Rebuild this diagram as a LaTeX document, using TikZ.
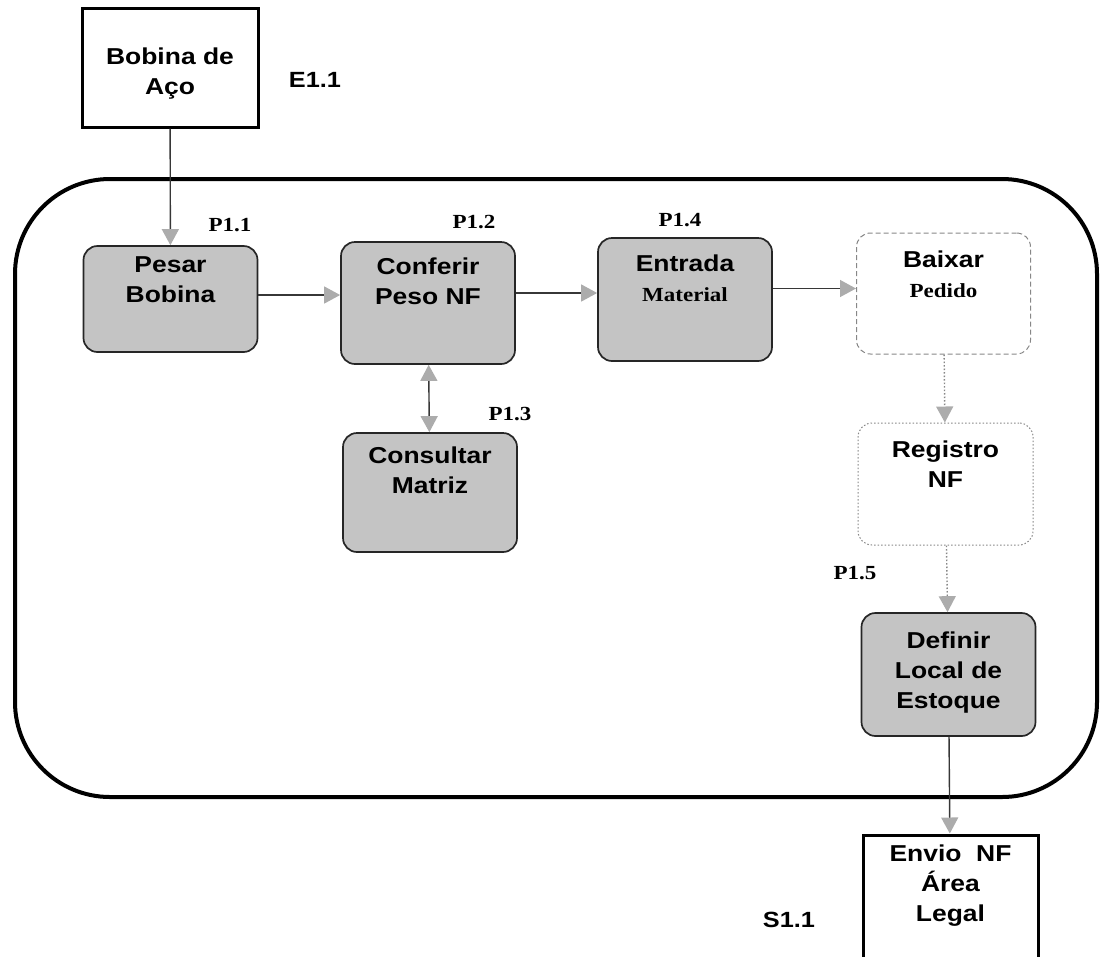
\documentclass[tikz,border=0pt]{standalone}
\usepackage{fontspec}
\setmainfont{Liberation Sans}[FakeStretch=1.15]
\newfontfamily\timesfont{Liberation Serif}[FakeStretch=1.15]
\usetikzlibrary{arrows.meta}
\definecolor{boxgray}{RGB}{196,196,196}
\definecolor{tipgray}{RGB}{172,172,172}
\definecolor{linegray}{RGB}{55,55,55}
\definecolor{dashgray}{RGB}{135,135,135}
\tikzset{procbox/.style={draw=black!85,line width=1.7pt,fill=boxgray,rounded corners=14pt,inner xsep=10pt,inner ysep=0pt,minimum width=174pt,font=\bfseries\fontsize{23}{30}\selectfont}}
\tikzset{dashbox/.style={procbox,draw=dashgray,fill=none,line width=1pt,dash pattern=on 5pt off 3pt}}
\tikzset{dotbox/.style={procbox,draw=dashgray,fill=none,line width=1pt,dash pattern=on 1.5pt off 2pt}}
\tikzset{iobox/.style={procbox,draw=black,fill=white,line width=3pt,rounded corners=0pt}}
\tikzset{plabel/.style={font=\timesfont\bfseries\fontsize{20}{24}\selectfont}}
\tikzset{elabel/.style={font=\bfseries\fontsize{22}{26}\selectfont}}
\tikzset{flow/.style={draw=linegray,line width=1.4pt,-{Triangle[length=16pt,width=17pt,color=tipgray]}}}
\tikzset{dotflow/.style={flow,draw=dashgray,dash pattern=on 1.5pt off 2pt}}
\newcommand{\boxlines}[3]{\parbox[c][#1][t]{154pt}{\centering\vspace*{#2}#3}}
\newcommand{\subline}[1]{{\timesfont\fontsize{20}{24}\selectfont #1}}

\begin{document}
\begin{tikzpicture}[x=1pt,y=-1pt]
\useasboundingbox (0,0) rectangle (1105,956);
% frame of the receiving process
\draw[line width=4pt,rounded corners=95pt] (15,179) rectangle (1097,797);

\node[iobox,minimum width=176pt] (bobina) at (170,67.5) {\boxlines{119pt}{40pt}{Bobina de\\Aço}};
\node[elabel] (e11) at (315,80) {E1.1};

\node[procbox] (pesar) at (170.5,299) {\boxlines{106pt}{11pt}{Pesar\\Bobina}};
\node[procbox,minimum width=170pt] (conferir) at (428,303) {\boxlines{122pt}{16pt}{Conferir\\Peso NF}};
\node[procbox,minimum width=171pt] (consultar) at (430,492.5) {\boxlines{119pt}{14pt}{Consultar\\Matriz}};
\node[procbox] (entrada) at (685,299.5) {\boxlines{123pt}{17pt}{Entrada\\\subline{Material}}};
\node[dashbox,minimum width=173pt] (baixar) at (943.5,293.5) {\boxlines{121pt}{18pt}{Baixar\\\subline{Pedido}}};
\node[dotbox,minimum width=175pt] (registro) at (945.5,484) {\boxlines{122pt}{18pt}{Registro\\NF}};
\node[procbox,minimum width=173pt] (definir) at (948.5,674.5) {\boxlines{123pt}{19pt}{Definir\\Local de\\Estoque}};
\node[iobox,minimum width=175pt] (envio) at (950.5,915) {\boxlines{160pt}{10pt}{Envio~ NF\\Área\\Legal}};
\node[elabel] (s11) at (789,920) {S1.1};

\node[plabel] (p11) at (230,225) {P1.1};
\node[plabel] (p12) at (474,222) {P1.2};
\node[plabel] (p13) at (510,414) {P1.3};
\node[plabel] (p14) at (680,220) {P1.4};
\node[plabel] (p15) at (855,573) {P1.5};

\draw[flow] (bobina) -- (pesar);
\draw[flow] ([yshift=4pt]pesar.east) -- ([yshift=4pt]pesar.east -| conferir.west);
\draw[flow] ([yshift=10pt]conferir.east) -- ([yshift=10pt]conferir.east -| entrada.west);
\draw[flow] ([yshift=11pt]entrada.east) -- ([yshift=11pt]entrada.east -| baixar.west);
\draw[flow,{Triangle[length=16pt,width=17pt,color=tipgray]}-{Triangle[length=16pt,width=17pt,color=tipgray]}] (conferir) -- (consultar);
\draw[dotflow] (baixar) -- (registro);
\draw[dotflow] (registro) -- (definir);
\draw[flow] (definir) -- (envio);

\end{tikzpicture}
\end{document}
